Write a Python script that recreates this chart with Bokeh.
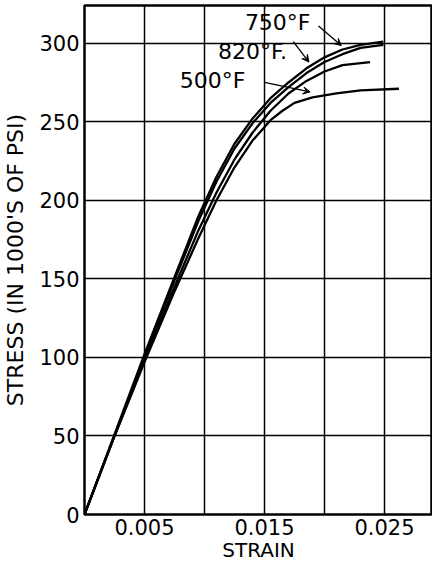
from bokeh.plotting import figure
from bokeh.models import FixedTicker, Arrow, VeeHead, Range1d
from bokeh.core.properties import value
from bokeh.embed import file_html
from bokeh.resources import INLINE

# Stress-strain curves (strain, stress in 1000's of psi)
strain_750 = [0, 0.0025, 0.005, 0.0075, 0.0095, 0.011, 0.0125, 0.014, 0.0155, 0.017, 0.0185, 0.020, 0.0215, 0.023, 0.0249]
stress_750 = [0, 51, 102, 151, 190, 215, 236, 252, 265, 275, 284, 291, 296, 299, 301]

strain_820 = [0, 0.0025, 0.005, 0.0075, 0.0095, 0.011, 0.0125, 0.014, 0.0155, 0.017, 0.0185, 0.020, 0.0215, 0.023, 0.0249]
stress_820 = [0, 50, 100, 149, 187, 212, 233, 249, 262, 272, 281, 288, 293, 297, 299]

strain_mid = [0, 0.0025, 0.005, 0.0075, 0.0095, 0.011, 0.0125, 0.014, 0.0155, 0.017, 0.0185, 0.020, 0.0215, 0.0238]
stress_mid = [0, 50, 98, 145, 181, 205, 226, 243, 257, 268, 276, 282, 286, 288]

strain_500 = [0, 0.0025, 0.005, 0.0075, 0.0095, 0.011, 0.0125, 0.014, 0.0155, 0.0165, 0.0175, 0.019, 0.021, 0.023, 0.0262]
stress_500 = [0, 50, 97, 142, 176, 200, 221, 238, 251, 257, 262, 265.5, 268, 270, 271]

x_ticks = [0.005, 0.015, 0.025]
x_grid = [0.005, 0.010, 0.015, 0.020, 0.025]
y_ticks = [0, 50, 100, 150, 200, 250, 300]

labels = ["750°F", "820°F.", "500°F"]

FONT = "DejaVu Sans"

p = figure(width=432, height=564, output_backend="svg", toolbar_location=None,
           x_range=Range1d(0, 0.029), y_range=Range1d(0, 324),
           min_border_left=83, min_border_right=0, min_border_top=5, min_border_bottom=0)

p.outline_line_color = "black"
p.outline_line_width = 2.5
p.background_fill_color = "white"

p.xaxis.ticker = FixedTicker(ticks=x_ticks)
p.yaxis.ticker = FixedTicker(ticks=y_ticks)
p.xgrid.ticker = FixedTicker(ticks=x_grid)
p.ygrid.ticker = FixedTicker(ticks=y_ticks)
for g in (p.xgrid, p.ygrid):
    g.grid_line_color = "black"
    g.grid_line_width = 1.5
    g.grid_line_alpha = 1.0

for ax in (p.xaxis, p.yaxis):
    ax.axis_line_color = None
    ax.major_tick_line_color = None
    ax.minor_tick_line_color = None
    ax.major_tick_out = 0
    ax.major_tick_in = 0
    ax.major_label_text_font = FONT
    ax.major_label_text_font_size = "21px"
    ax.major_label_text_color = "black"
    ax.axis_label_text_font = FONT
    ax.axis_label_text_font_style = "normal"
    ax.axis_label_text_color = "black"

p.xaxis.axis_label = "STRAIN"
p.yaxis.axis_label = "STRESS (IN 1000'S OF PSI)"
p.xaxis.axis_label_text_font_size = "20px"
p.yaxis.axis_label_text_font_size = "22px"
p.xaxis.major_label_standoff = 4
p.yaxis.major_label_standoff = 5
p.xaxis.axis_label_standoff = 0
p.yaxis.axis_label_standoff = 8

for xs, ys in ((strain_750, stress_750), (strain_820, stress_820),
               (strain_mid, stress_mid), (strain_500, stress_500)):
    p.line(xs, ys, line_color="black", line_width=2.3)

# curve labels
p.text(x=[0.0161, 0.0140, 0.01067], y=[313, 294.5, 276], text=labels,
       text_font=value(FONT), text_font_size="22px", text_color="black",
       text_align="center", text_baseline="middle")

for (x0, y0, x1, y1) in ((0.0195, 311, 0.0214, 298.5),
                         (0.0174, 301, 0.0187, 288),
                         (0.0150, 275, 0.0188, 269)):
    p.add_layout(Arrow(end=VeeHead(size=7, fill_color="black", line_color="black"),
                       x_start=x0, y_start=y0, x_end=x1, y_end=y1,
                       line_color="black", line_width=1.3))

open("out.html", "w").write(file_html(p, INLINE))
